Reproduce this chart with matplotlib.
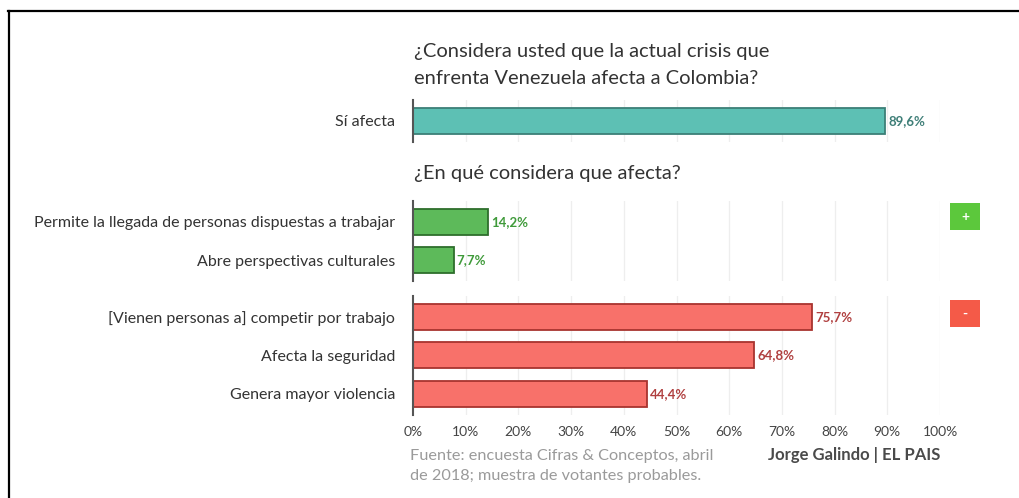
import matplotlib
matplotlib.use("Agg")
import matplotlib.pyplot as plt
from matplotlib.patches import Rectangle
from matplotlib.lines import Line2D

plt.rcParams['font.family'] = ['Lato', 'DejaVu Sans']

# Survey data (percent of respondents)
q1_labels = ["Sí afecta"]
q1_values = [89.6]

pos_labels = ["Permite la llegada de personas dispuestas a trabajar",
              "Abre perspectivas culturales"]
pos_values = [14.2, 7.7]

neg_labels = ["[Vienen personas a] competir por trabajo",
              "Afecta la seguridad",
              "Genera mayor violencia"]
neg_values = [75.7, 64.8, 44.4]

x_ticks = [0, 10, 20, 30, 40, 50, 60, 70, 80, 90, 100]
x_ticklabels = [f"{t}%" for t in x_ticks]

title_1 = ["¿Considera usted que la actual crisis que",
           "enfrenta Venezuela afecta a Colombia?"]
title_2 = "¿En qué considera que afecta?"
source = ["Fuente: encuesta Cifras & Conceptos, abril",
          "de 2018; muestra de votantes probables."]
credit = "Jorge Galindo | EL PAIS"

W, H = 1019, 498
fig = plt.figure(figsize=(W / 100, H / 100), dpi=100)
fig.patch.set_facecolor("white")

X0, X1 = 413, 940
UNIT = 38.5  # pixels per bar slot


def make_axes(top_px, n):
    pad = 0.54
    height_px = (n - 1 + 2 * pad) * UNIT
    ax = fig.add_axes([X0 / W, 1 - (top_px + height_px) / H,
                       (X1 - X0) / W, height_px / H])
    ax.set_xlim(0, 100)
    ax.set_ylim(n - 1 + pad, -pad)
    return ax


def style(ax, labels, values, face, edge, txtcol, show_x=False):
    y = list(range(len(values)))
    ax.barh(y, values, height=0.68, color=face, edgecolor=edge,
            linewidth=1.3, zorder=3)
    for yi, v in zip(y, values):
        ax.text(v + 0.6, yi, f"{v:.1f}%".replace(".", ","), va="center",
                ha="left", fontsize=9.5, color=txtcol, fontweight="bold",
                zorder=4)
    ax.set_yticks(y)
    ax.set_yticklabels(labels, fontsize=11.5, color="#333333")
    ax.tick_params(axis="y", length=0, pad=13)
    ax.set_xticks(x_ticks)
    for xt in x_ticks[1:]:
        ax.axvline(xt, color="#eeeeee", linewidth=0.9, zorder=0)
    if show_x:
        ax.set_xticklabels(x_ticklabels, fontsize=10, color="#444444")
        ax.tick_params(axis="x", length=0, pad=8)
    else:
        ax.tick_params(axis="x", length=0, labelbottom=False)
    for s in ("top", "right", "bottom"):
        ax.spines[s].set_visible(False)
    ax.spines["left"].set_color("#555555")
    ax.spines["left"].set_linewidth(1.5)
    ax.spines["left"].set_zorder(5)
    ax.set_facecolor("none")


ax1 = make_axes(100, 1)
style(ax1, q1_labels, q1_values, "#5dc0b4", "#3c7f77", "#3f7f78")

ax2 = make_axes(201, 2)
style(ax2, pos_labels, pos_values, "#5dba5a", "#2e6e2c", "#3f9a3a")

ax3 = make_axes(296, 3)
style(ax3, neg_labels, neg_values, "#f8716a", "#a8342f", "#b04040", show_x=True)

# Question headings
for line, ypx in zip(title_1, (52, 78)):
    fig.text(414 / W, 1 - ypx / H, line, ha="left", va="center",
             fontsize=14.5, color="#333333")
fig.text(414 / W, 1 - 173 / H, title_2, ha="left", va="center",
         fontsize=14.5, color="#333333")

# Source and credit
for line, ypx in zip(source, (456, 476)):
    fig.text(410 / W, 1 - ypx / H, line, ha="left", va="center",
             fontsize=11.7, color="#9a9a9a")
fig.text(940 / W, 1 - 455 / H, credit, ha="right", va="center",
         fontsize=12, color="#4a4a4a", fontweight="bold")

# Positive / negative markers
for top_px, face, sign in ((203, "#5cc83c", "+"), (300, "#f45a48", "-")):
    fig.patches.append(Rectangle((950 / W, 1 - (top_px + 27) / H), 30 / W,
                                 27 / H, transform=fig.transFigure,
                                 facecolor=face, edgecolor="none"))
    fig.text(965 / W, 1 - (top_px + 13.5) / H, sign, ha="center",
             va="center", fontsize=10, color="white", fontweight="bold")

# Frame
fig.add_artist(Line2D([9 / W, 9 / W], [0, 1 - 11.5 / H], color="black",
                      linewidth=1.6, transform=fig.transFigure))
fig.add_artist(Line2D([8.2 / W, 1], [1 - 11.5 / H, 1 - 11.5 / H],
                      color="black", linewidth=1.6,
                      transform=fig.transFigure))

fig.savefig("out.png", dpi=100, facecolor="white")
